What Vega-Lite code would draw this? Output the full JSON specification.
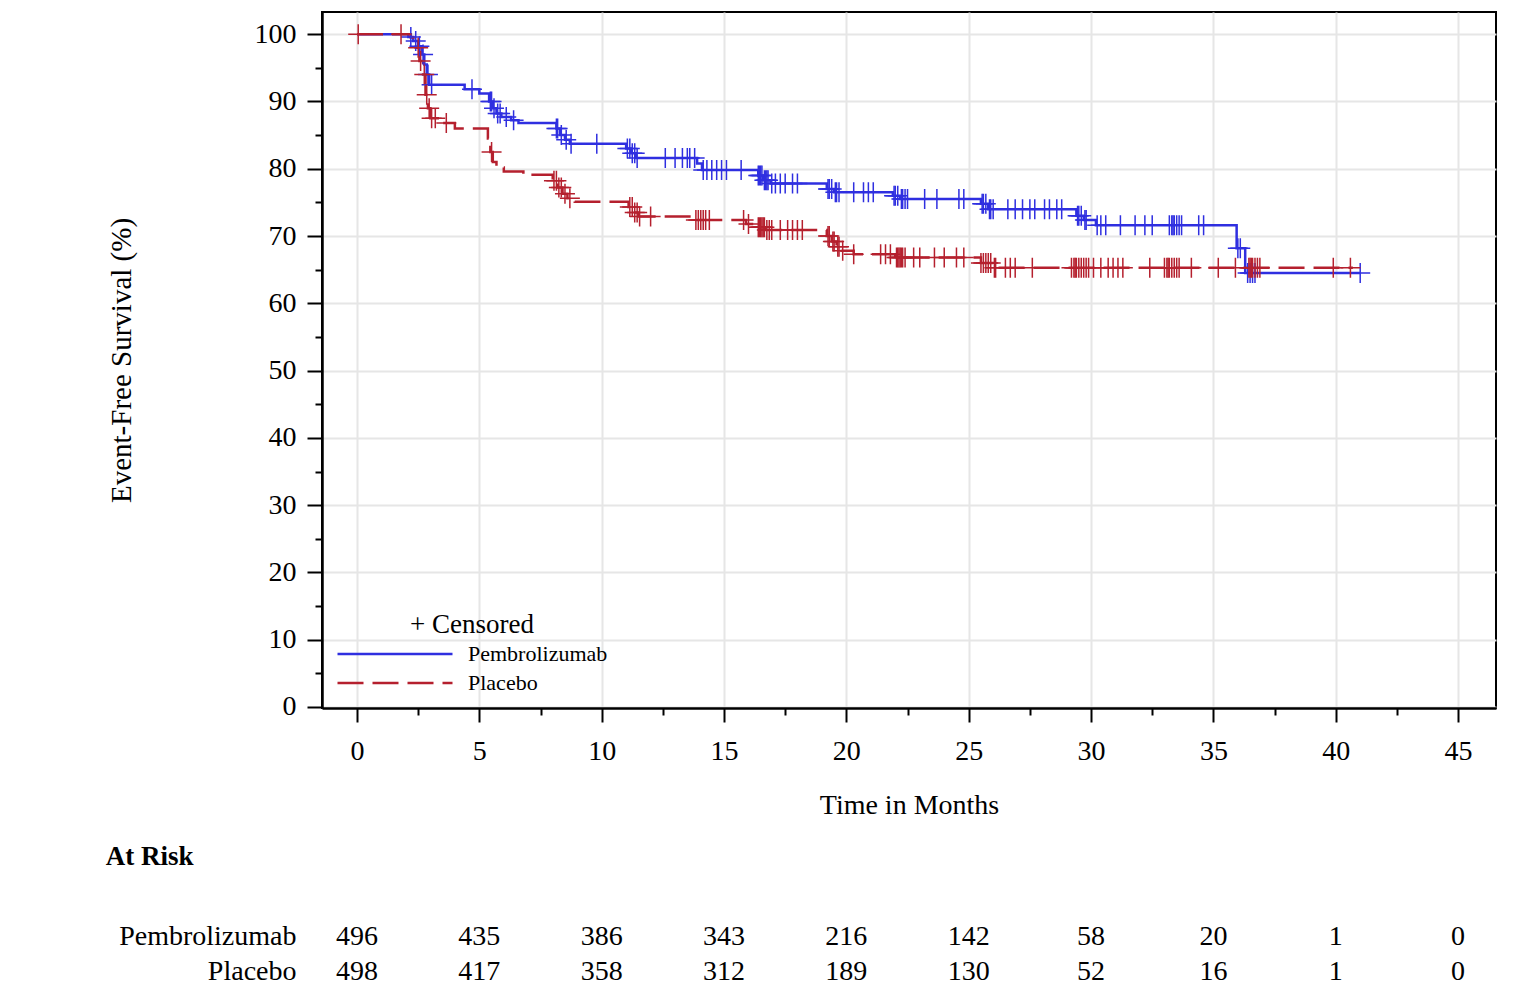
{
  "$schema": "https://vega.github.io/schema/vega-lite/v6.json",
  "padding": {"left": 105, "top": 11, "right": 10, "bottom": 0},
  "background": "white",
  "config": {
    "font": "Liberation Serif",
    "view": {"stroke": "black", "strokeWidth": 2},
    "axis": {
      "labelFont": "Liberation Serif",
      "titleFont": "Liberation Serif",
      "labelColor": "black",
      "titleColor": "black",
      "tickColor": "black",
      "domainColor": "black",
      "titleFontWeight": "normal",
      "gridColor": "#e6e6e6",
      "gridWidth": 2
    }
  },
  "datasets": {
    "steps": [
      {"group": "Pembrolizumab", "t": 0, "s": 100},
      {"group": "Pembrolizumab", "t": 2.1, "s": 99.6},
      {"group": "Pembrolizumab", "t": 2.3, "s": 99.0},
      {"group": "Pembrolizumab", "t": 2.5, "s": 98.2},
      {"group": "Pembrolizumab", "t": 2.65, "s": 97.0},
      {"group": "Pembrolizumab", "t": 2.75, "s": 95.5},
      {"group": "Pembrolizumab", "t": 2.85, "s": 94.0},
      {"group": "Pembrolizumab", "t": 2.95, "s": 92.5},
      {"group": "Pembrolizumab", "t": 4.4, "s": 91.8},
      {"group": "Pembrolizumab", "t": 5.0, "s": 91.2},
      {"group": "Pembrolizumab", "t": 5.4, "s": 90.0},
      {"group": "Pembrolizumab", "t": 5.55, "s": 89.0},
      {"group": "Pembrolizumab", "t": 5.7, "s": 88.2},
      {"group": "Pembrolizumab", "t": 5.9, "s": 87.7},
      {"group": "Pembrolizumab", "t": 6.3, "s": 87.2},
      {"group": "Pembrolizumab", "t": 6.6, "s": 86.8},
      {"group": "Pembrolizumab", "t": 8.15, "s": 86.0},
      {"group": "Pembrolizumab", "t": 8.3, "s": 85.0},
      {"group": "Pembrolizumab", "t": 8.5, "s": 84.3},
      {"group": "Pembrolizumab", "t": 8.7, "s": 83.7},
      {"group": "Pembrolizumab", "t": 11.0, "s": 83.0},
      {"group": "Pembrolizumab", "t": 11.2, "s": 82.3},
      {"group": "Pembrolizumab", "t": 11.4, "s": 81.6},
      {"group": "Pembrolizumab", "t": 13.9, "s": 80.8},
      {"group": "Pembrolizumab", "t": 14.1, "s": 79.8},
      {"group": "Pembrolizumab", "t": 16.4, "s": 79.0},
      {"group": "Pembrolizumab", "t": 16.6, "s": 78.3},
      {"group": "Pembrolizumab", "t": 16.9, "s": 77.8},
      {"group": "Pembrolizumab", "t": 19.2, "s": 77.0},
      {"group": "Pembrolizumab", "t": 19.5, "s": 76.5},
      {"group": "Pembrolizumab", "t": 21.9, "s": 76.0},
      {"group": "Pembrolizumab", "t": 22.2, "s": 75.5},
      {"group": "Pembrolizumab", "t": 25.5, "s": 74.8},
      {"group": "Pembrolizumab", "t": 25.8, "s": 74.0},
      {"group": "Pembrolizumab", "t": 29.4, "s": 73.0},
      {"group": "Pembrolizumab", "t": 29.7, "s": 72.4},
      {"group": "Pembrolizumab", "t": 30.2, "s": 71.6},
      {"group": "Pembrolizumab", "t": 35.95, "s": 68.2},
      {"group": "Pembrolizumab", "t": 36.3, "s": 64.5},
      {"group": "Pembrolizumab", "t": 41.0, "s": 64.5},
      {"group": "Placebo", "t": 0, "s": 100},
      {"group": "Placebo", "t": 2.2, "s": 99.5},
      {"group": "Placebo", "t": 2.4, "s": 98.0},
      {"group": "Placebo", "t": 2.55, "s": 96.0},
      {"group": "Placebo", "t": 2.7, "s": 94.0},
      {"group": "Placebo", "t": 2.8, "s": 91.0},
      {"group": "Placebo", "t": 2.9, "s": 89.0},
      {"group": "Placebo", "t": 3.0, "s": 87.5},
      {"group": "Placebo", "t": 3.3, "s": 86.8},
      {"group": "Placebo", "t": 4.0, "s": 86.0},
      {"group": "Placebo", "t": 5.35, "s": 84.5},
      {"group": "Placebo", "t": 5.45, "s": 82.5},
      {"group": "Placebo", "t": 5.55, "s": 81.0},
      {"group": "Placebo", "t": 5.7, "s": 80.2},
      {"group": "Placebo", "t": 6.0, "s": 79.6},
      {"group": "Placebo", "t": 6.8, "s": 79.1},
      {"group": "Placebo", "t": 8.0, "s": 78.2},
      {"group": "Placebo", "t": 8.2, "s": 77.2},
      {"group": "Placebo", "t": 8.4, "s": 76.3},
      {"group": "Placebo", "t": 8.6, "s": 75.6},
      {"group": "Placebo", "t": 8.9, "s": 75.1},
      {"group": "Placebo", "t": 11.1, "s": 74.3},
      {"group": "Placebo", "t": 11.3, "s": 73.5},
      {"group": "Placebo", "t": 11.5, "s": 72.9},
      {"group": "Placebo", "t": 13.8, "s": 72.4},
      {"group": "Placebo", "t": 15.9, "s": 71.8},
      {"group": "Placebo", "t": 16.3, "s": 71.3},
      {"group": "Placebo", "t": 16.7, "s": 70.9},
      {"group": "Placebo", "t": 19.2, "s": 70.0},
      {"group": "Placebo", "t": 19.4, "s": 69.2},
      {"group": "Placebo", "t": 19.6, "s": 68.4},
      {"group": "Placebo", "t": 19.8, "s": 67.8},
      {"group": "Placebo", "t": 20.3, "s": 67.3},
      {"group": "Placebo", "t": 22.0, "s": 66.8},
      {"group": "Placebo", "t": 25.5, "s": 66.0},
      {"group": "Placebo", "t": 26.0, "s": 65.3},
      {"group": "Placebo", "t": 40.7, "s": 65.3}
    ],
    "censored": [
      {"group": "Pembrolizumab", "t": 2.2, "s": 99.6},
      {"group": "Pembrolizumab", "t": 2.4, "s": 99.0},
      {"group": "Pembrolizumab", "t": 2.55, "s": 98.2},
      {"group": "Pembrolizumab", "t": 2.7, "s": 97.0},
      {"group": "Pembrolizumab", "t": 2.9, "s": 94.0},
      {"group": "Pembrolizumab", "t": 3.05, "s": 92.5},
      {"group": "Pembrolizumab", "t": 4.7, "s": 91.8},
      {"group": "Pembrolizumab", "t": 5.45, "s": 90.0},
      {"group": "Pembrolizumab", "t": 5.5, "s": 90.0},
      {"group": "Pembrolizumab", "t": 5.6, "s": 89.0},
      {"group": "Pembrolizumab", "t": 5.75, "s": 88.2},
      {"group": "Pembrolizumab", "t": 5.85, "s": 88.2},
      {"group": "Pembrolizumab", "t": 6.1, "s": 87.7},
      {"group": "Pembrolizumab", "t": 6.4, "s": 87.2},
      {"group": "Pembrolizumab", "t": 8.15, "s": 86.0},
      {"group": "Pembrolizumab", "t": 8.2, "s": 86.0},
      {"group": "Pembrolizumab", "t": 8.35, "s": 85.0},
      {"group": "Pembrolizumab", "t": 8.55, "s": 84.3},
      {"group": "Pembrolizumab", "t": 8.75, "s": 83.7},
      {"group": "Pembrolizumab", "t": 9.8, "s": 83.7},
      {"group": "Pembrolizumab", "t": 11.05, "s": 83.0},
      {"group": "Pembrolizumab", "t": 11.15, "s": 83.0},
      {"group": "Pembrolizumab", "t": 11.25, "s": 82.3},
      {"group": "Pembrolizumab", "t": 11.35, "s": 82.3},
      {"group": "Pembrolizumab", "t": 11.45, "s": 81.6},
      {"group": "Pembrolizumab", "t": 12.6, "s": 81.6},
      {"group": "Pembrolizumab", "t": 13.0, "s": 81.6},
      {"group": "Pembrolizumab", "t": 13.3, "s": 81.6},
      {"group": "Pembrolizumab", "t": 13.5, "s": 81.6},
      {"group": "Pembrolizumab", "t": 13.6, "s": 81.6},
      {"group": "Pembrolizumab", "t": 13.8, "s": 81.6},
      {"group": "Pembrolizumab", "t": 14.15, "s": 79.8},
      {"group": "Pembrolizumab", "t": 14.3, "s": 79.8},
      {"group": "Pembrolizumab", "t": 14.5, "s": 79.8},
      {"group": "Pembrolizumab", "t": 14.7, "s": 79.8},
      {"group": "Pembrolizumab", "t": 14.9, "s": 79.8},
      {"group": "Pembrolizumab", "t": 15.1, "s": 79.8},
      {"group": "Pembrolizumab", "t": 15.7, "s": 79.8},
      {"group": "Pembrolizumab", "t": 16.4, "s": 79.0},
      {"group": "Pembrolizumab", "t": 16.45, "s": 79.0},
      {"group": "Pembrolizumab", "t": 16.5, "s": 79.0},
      {"group": "Pembrolizumab", "t": 16.55, "s": 79.0},
      {"group": "Pembrolizumab", "t": 16.65, "s": 78.3},
      {"group": "Pembrolizumab", "t": 16.7, "s": 78.3},
      {"group": "Pembrolizumab", "t": 16.75, "s": 78.3},
      {"group": "Pembrolizumab", "t": 16.8, "s": 78.3},
      {"group": "Pembrolizumab", "t": 16.95, "s": 77.8},
      {"group": "Pembrolizumab", "t": 17.1, "s": 77.8},
      {"group": "Pembrolizumab", "t": 17.3, "s": 77.8},
      {"group": "Pembrolizumab", "t": 17.5, "s": 77.8},
      {"group": "Pembrolizumab", "t": 17.8, "s": 77.8},
      {"group": "Pembrolizumab", "t": 18.0, "s": 77.8},
      {"group": "Pembrolizumab", "t": 19.25, "s": 77.0},
      {"group": "Pembrolizumab", "t": 19.3, "s": 77.0},
      {"group": "Pembrolizumab", "t": 19.4, "s": 77.0},
      {"group": "Pembrolizumab", "t": 19.55, "s": 76.5},
      {"group": "Pembrolizumab", "t": 19.6, "s": 76.5},
      {"group": "Pembrolizumab", "t": 19.7, "s": 76.5},
      {"group": "Pembrolizumab", "t": 20.3, "s": 76.5},
      {"group": "Pembrolizumab", "t": 20.7, "s": 76.5},
      {"group": "Pembrolizumab", "t": 20.9, "s": 76.5},
      {"group": "Pembrolizumab", "t": 21.1, "s": 76.5},
      {"group": "Pembrolizumab", "t": 21.95, "s": 76.0},
      {"group": "Pembrolizumab", "t": 22.0, "s": 76.0},
      {"group": "Pembrolizumab", "t": 22.1, "s": 76.0},
      {"group": "Pembrolizumab", "t": 22.25, "s": 75.5},
      {"group": "Pembrolizumab", "t": 22.3, "s": 75.5},
      {"group": "Pembrolizumab", "t": 22.4, "s": 75.5},
      {"group": "Pembrolizumab", "t": 22.5, "s": 75.5},
      {"group": "Pembrolizumab", "t": 23.2, "s": 75.5},
      {"group": "Pembrolizumab", "t": 23.7, "s": 75.5},
      {"group": "Pembrolizumab", "t": 24.6, "s": 75.5},
      {"group": "Pembrolizumab", "t": 24.8, "s": 75.5},
      {"group": "Pembrolizumab", "t": 25.55, "s": 74.8},
      {"group": "Pembrolizumab", "t": 25.6, "s": 74.8},
      {"group": "Pembrolizumab", "t": 25.7, "s": 74.8},
      {"group": "Pembrolizumab", "t": 25.85, "s": 74.0},
      {"group": "Pembrolizumab", "t": 25.9, "s": 74.0},
      {"group": "Pembrolizumab", "t": 26.0, "s": 74.0},
      {"group": "Pembrolizumab", "t": 26.6, "s": 74.0},
      {"group": "Pembrolizumab", "t": 26.9, "s": 74.0},
      {"group": "Pembrolizumab", "t": 27.2, "s": 74.0},
      {"group": "Pembrolizumab", "t": 27.5, "s": 74.0},
      {"group": "Pembrolizumab", "t": 27.7, "s": 74.0},
      {"group": "Pembrolizumab", "t": 28.1, "s": 74.0},
      {"group": "Pembrolizumab", "t": 28.3, "s": 74.0},
      {"group": "Pembrolizumab", "t": 28.6, "s": 74.0},
      {"group": "Pembrolizumab", "t": 28.8, "s": 74.0},
      {"group": "Pembrolizumab", "t": 29.45, "s": 73.0},
      {"group": "Pembrolizumab", "t": 29.5, "s": 73.0},
      {"group": "Pembrolizumab", "t": 29.6, "s": 73.0},
      {"group": "Pembrolizumab", "t": 29.75, "s": 72.4},
      {"group": "Pembrolizumab", "t": 29.8, "s": 72.4},
      {"group": "Pembrolizumab", "t": 30.25, "s": 71.6},
      {"group": "Pembrolizumab", "t": 30.4, "s": 71.6},
      {"group": "Pembrolizumab", "t": 30.6, "s": 71.6},
      {"group": "Pembrolizumab", "t": 31.2, "s": 71.6},
      {"group": "Pembrolizumab", "t": 31.8, "s": 71.6},
      {"group": "Pembrolizumab", "t": 32.2, "s": 71.6},
      {"group": "Pembrolizumab", "t": 32.5, "s": 71.6},
      {"group": "Pembrolizumab", "t": 33.2, "s": 71.6},
      {"group": "Pembrolizumab", "t": 33.3, "s": 71.6},
      {"group": "Pembrolizumab", "t": 33.35, "s": 71.6},
      {"group": "Pembrolizumab", "t": 33.4, "s": 71.6},
      {"group": "Pembrolizumab", "t": 33.5, "s": 71.6},
      {"group": "Pembrolizumab", "t": 33.6, "s": 71.6},
      {"group": "Pembrolizumab", "t": 33.7, "s": 71.6},
      {"group": "Pembrolizumab", "t": 34.4, "s": 71.6},
      {"group": "Pembrolizumab", "t": 34.6, "s": 71.6},
      {"group": "Pembrolizumab", "t": 36.0, "s": 68.2},
      {"group": "Pembrolizumab", "t": 36.1, "s": 68.2},
      {"group": "Pembrolizumab", "t": 36.4, "s": 64.5},
      {"group": "Pembrolizumab", "t": 36.5, "s": 64.5},
      {"group": "Pembrolizumab", "t": 36.6, "s": 64.5},
      {"group": "Pembrolizumab", "t": 36.7, "s": 64.5},
      {"group": "Pembrolizumab", "t": 41.0, "s": 64.5},
      {"group": "Placebo", "t": 0.05, "s": 100},
      {"group": "Placebo", "t": 1.8, "s": 100},
      {"group": "Placebo", "t": 2.5, "s": 98.0},
      {"group": "Placebo", "t": 2.6, "s": 96.0},
      {"group": "Placebo", "t": 2.75, "s": 94.0},
      {"group": "Placebo", "t": 2.85, "s": 91.0},
      {"group": "Placebo", "t": 2.95, "s": 89.0},
      {"group": "Placebo", "t": 3.05, "s": 87.5},
      {"group": "Placebo", "t": 3.2, "s": 87.5},
      {"group": "Placebo", "t": 3.65, "s": 86.8},
      {"group": "Placebo", "t": 5.5, "s": 82.5},
      {"group": "Placebo", "t": 8.05, "s": 78.2},
      {"group": "Placebo", "t": 8.15, "s": 78.2},
      {"group": "Placebo", "t": 8.25, "s": 77.2},
      {"group": "Placebo", "t": 8.35, "s": 77.2},
      {"group": "Placebo", "t": 8.5, "s": 76.3},
      {"group": "Placebo", "t": 8.7, "s": 75.6},
      {"group": "Placebo", "t": 11.15, "s": 74.3},
      {"group": "Placebo", "t": 11.25, "s": 74.3},
      {"group": "Placebo", "t": 11.35, "s": 73.5},
      {"group": "Placebo", "t": 11.45, "s": 73.5},
      {"group": "Placebo", "t": 11.55, "s": 72.9},
      {"group": "Placebo", "t": 12.0, "s": 72.9},
      {"group": "Placebo", "t": 13.85, "s": 72.4},
      {"group": "Placebo", "t": 13.95, "s": 72.4},
      {"group": "Placebo", "t": 14.05, "s": 72.4},
      {"group": "Placebo", "t": 14.15, "s": 72.4},
      {"group": "Placebo", "t": 14.25, "s": 72.4},
      {"group": "Placebo", "t": 14.4, "s": 72.4},
      {"group": "Placebo", "t": 15.8, "s": 72.4},
      {"group": "Placebo", "t": 16.0, "s": 71.8},
      {"group": "Placebo", "t": 16.4, "s": 71.3},
      {"group": "Placebo", "t": 16.45, "s": 71.3},
      {"group": "Placebo", "t": 16.5, "s": 71.3},
      {"group": "Placebo", "t": 16.55, "s": 71.3},
      {"group": "Placebo", "t": 16.6, "s": 71.3},
      {"group": "Placebo", "t": 16.65, "s": 71.3},
      {"group": "Placebo", "t": 16.75, "s": 70.9},
      {"group": "Placebo", "t": 16.85, "s": 70.9},
      {"group": "Placebo", "t": 16.95, "s": 70.9},
      {"group": "Placebo", "t": 17.3, "s": 70.9},
      {"group": "Placebo", "t": 17.6, "s": 70.9},
      {"group": "Placebo", "t": 17.8, "s": 70.9},
      {"group": "Placebo", "t": 18.0, "s": 70.9},
      {"group": "Placebo", "t": 18.2, "s": 70.9},
      {"group": "Placebo", "t": 19.25, "s": 70.0},
      {"group": "Placebo", "t": 19.3, "s": 70.0},
      {"group": "Placebo", "t": 19.45, "s": 69.2},
      {"group": "Placebo", "t": 19.5, "s": 69.2},
      {"group": "Placebo", "t": 19.65, "s": 68.4},
      {"group": "Placebo", "t": 19.7, "s": 68.4},
      {"group": "Placebo", "t": 19.85, "s": 67.8},
      {"group": "Placebo", "t": 20.3, "s": 67.3},
      {"group": "Placebo", "t": 21.4, "s": 67.3},
      {"group": "Placebo", "t": 21.6, "s": 67.3},
      {"group": "Placebo", "t": 21.8, "s": 67.3},
      {"group": "Placebo", "t": 22.05, "s": 66.8},
      {"group": "Placebo", "t": 22.1, "s": 66.8},
      {"group": "Placebo", "t": 22.15, "s": 66.8},
      {"group": "Placebo", "t": 22.2, "s": 66.8},
      {"group": "Placebo", "t": 22.25, "s": 66.8},
      {"group": "Placebo", "t": 22.3, "s": 66.8},
      {"group": "Placebo", "t": 22.4, "s": 66.8},
      {"group": "Placebo", "t": 22.75, "s": 66.8},
      {"group": "Placebo", "t": 23.0, "s": 66.8},
      {"group": "Placebo", "t": 23.6, "s": 66.8},
      {"group": "Placebo", "t": 24.0, "s": 66.8},
      {"group": "Placebo", "t": 24.5, "s": 66.8},
      {"group": "Placebo", "t": 24.8, "s": 66.8},
      {"group": "Placebo", "t": 25.5, "s": 66.0},
      {"group": "Placebo", "t": 25.6, "s": 66.0},
      {"group": "Placebo", "t": 25.7, "s": 66.0},
      {"group": "Placebo", "t": 25.8, "s": 66.0},
      {"group": "Placebo", "t": 25.9, "s": 66.0},
      {"group": "Placebo", "t": 26.05, "s": 65.3},
      {"group": "Placebo", "t": 26.1, "s": 65.3},
      {"group": "Placebo", "t": 26.5, "s": 65.3},
      {"group": "Placebo", "t": 26.7, "s": 65.3},
      {"group": "Placebo", "t": 26.9, "s": 65.3},
      {"group": "Placebo", "t": 27.6, "s": 65.3},
      {"group": "Placebo", "t": 29.2, "s": 65.3},
      {"group": "Placebo", "t": 29.3, "s": 65.3},
      {"group": "Placebo", "t": 29.35, "s": 65.3},
      {"group": "Placebo", "t": 29.4, "s": 65.3},
      {"group": "Placebo", "t": 29.5, "s": 65.3},
      {"group": "Placebo", "t": 29.6, "s": 65.3},
      {"group": "Placebo", "t": 29.7, "s": 65.3},
      {"group": "Placebo", "t": 29.8, "s": 65.3},
      {"group": "Placebo", "t": 29.9, "s": 65.3},
      {"group": "Placebo", "t": 30.1, "s": 65.3},
      {"group": "Placebo", "t": 30.4, "s": 65.3},
      {"group": "Placebo", "t": 30.7, "s": 65.3},
      {"group": "Placebo", "t": 30.9, "s": 65.3},
      {"group": "Placebo", "t": 31.1, "s": 65.3},
      {"group": "Placebo", "t": 31.3, "s": 65.3},
      {"group": "Placebo", "t": 32.4, "s": 65.3},
      {"group": "Placebo", "t": 33.0, "s": 65.3},
      {"group": "Placebo", "t": 33.1, "s": 65.3},
      {"group": "Placebo", "t": 33.15, "s": 65.3},
      {"group": "Placebo", "t": 33.2, "s": 65.3},
      {"group": "Placebo", "t": 33.3, "s": 65.3},
      {"group": "Placebo", "t": 33.4, "s": 65.3},
      {"group": "Placebo", "t": 33.5, "s": 65.3},
      {"group": "Placebo", "t": 33.6, "s": 65.3},
      {"group": "Placebo", "t": 34.1, "s": 65.3},
      {"group": "Placebo", "t": 35.2, "s": 65.3},
      {"group": "Placebo", "t": 35.9, "s": 65.3},
      {"group": "Placebo", "t": 36.45, "s": 65.3},
      {"group": "Placebo", "t": 36.5, "s": 65.3},
      {"group": "Placebo", "t": 36.55, "s": 65.3},
      {"group": "Placebo", "t": 36.6, "s": 65.3},
      {"group": "Placebo", "t": 36.7, "s": 65.3},
      {"group": "Placebo", "t": 36.8, "s": 65.3},
      {"group": "Placebo", "t": 36.9, "s": 65.3},
      {"group": "Placebo", "t": 39.9, "s": 65.3},
      {"group": "Placebo", "t": 40.6, "s": 65.3}
    ],
    "atrisk": [
      {"group": "Pembrolizumab", "t": 0, "n": 496},
      {"group": "Pembrolizumab", "t": 5, "n": 435},
      {"group": "Pembrolizumab", "t": 10, "n": 386},
      {"group": "Pembrolizumab", "t": 15, "n": 343},
      {"group": "Pembrolizumab", "t": 20, "n": 216},
      {"group": "Pembrolizumab", "t": 25, "n": 142},
      {"group": "Pembrolizumab", "t": 30, "n": 58},
      {"group": "Pembrolizumab", "t": 35, "n": 20},
      {"group": "Pembrolizumab", "t": 40, "n": 1},
      {"group": "Pembrolizumab", "t": 45, "n": 0},
      {"group": "Placebo", "t": 0, "n": 498},
      {"group": "Placebo", "t": 5, "n": 417},
      {"group": "Placebo", "t": 10, "n": 358},
      {"group": "Placebo", "t": 15, "n": 312},
      {"group": "Placebo", "t": 20, "n": 189},
      {"group": "Placebo", "t": 25, "n": 130},
      {"group": "Placebo", "t": 30, "n": 52},
      {"group": "Placebo", "t": 35, "n": 16},
      {"group": "Placebo", "t": 40, "n": 1},
      {"group": "Placebo", "t": 45, "n": 0}
    ]
  },
  "bounds": "flush",
  "spacing": 211,
  "resolve": {
    "scale": {"x": "independent", "y": "independent", "color": "independent", "strokeDash": "independent", "stroke": "independent"},
    "legend": {"color": "independent", "strokeDash": "independent", "stroke": "independent"}
  },
  "vconcat": [
    {
      "width": 1174,
      "height": 696,
      "resolve": {"axis": {"x": "independent", "y": "independent"}},
      "layer": [
        {
          "data": {"name": "steps"},
          "mark": {"type": "line", "interpolate": "step-after", "strokeWidth": 2.5},
          "encoding": {
            "x": {
              "field": "t",
              "type": "quantitative",
              "scale": {"domain": [-1.43, 46.55], "nice": false, "zero": false},
              "axis": {
                "values": [0, 5, 10, 15, 20, 25, 30, 35, 40, 45],
                "title": "Time in Months",
                "titleFontSize": 28,
                "titlePadding": 26,
                "labelFontSize": 28,
                "labelPadding": 15,
                "tickSize": 14,
                "tickWidth": 2,
                "domainWidth": 2.5,
                "grid": true,
                "orient": "bottom"
              }
            },
            "y": {
              "field": "s",
              "type": "quantitative",
              "scale": {"domain": [-0.15, 103.3], "nice": false, "zero": false},
              "axis": {
                "values": [0, 10, 20, 30, 40, 50, 60, 70, 80, 90, 100],
                "title": "Event-Free Survival (%)",
                "titleFontSize": 29,
                "titlePadding": 118,
                "labelFontSize": 28,
                "labelPadding": 11,
                "tickSize": 15,
                "tickWidth": 2,
                "domainWidth": 2.5,
                "grid": true,
                "orient": "left"
              }
            },
            "color": {
              "field": "group",
              "type": "nominal",
              "scale": {"domain": ["Pembrolizumab", "Placebo"], "range": ["#2f2fe0", "#b5202e"]},
              "legend": {
                "title": "+ Censored",
                "orient": "bottom-left",
                "offset": 14,
                "padding": 0,
                "titleFont": "Liberation Serif",
                "titleFontSize": 27,
                "titleFontWeight": "normal",
                "titleColor": "black",
                "titleAnchor": "middle",
                "titleAlign": "center",
                "titlePadding": 2,
                "labelFont": "Liberation Serif",
                "labelFontSize": 22,
                "labelColor": "black",
                "labelOffset": 106,
                "symbolType": "M-1,0H9",
                "symbolSize": 529,
                "symbolStrokeWidth": 2.5,
                "rowPadding": 5
              }
            },
            "strokeDash": {
              "field": "group",
              "type": "nominal",
              "scale": {"domain": ["Pembrolizumab", "Placebo"], "range": [[1, 0], [26, 9]]},
              "legend": {
                "title": "+ Censored",
                "orient": "bottom-left",
                "offset": 14,
                "padding": 0,
                "titleFont": "Liberation Serif",
                "titleFontSize": 27,
                "titleFontWeight": "normal",
                "titleColor": "black",
                "titleAnchor": "middle",
                "titleAlign": "center",
                "titlePadding": 2,
                "labelFont": "Liberation Serif",
                "labelFontSize": 22,
                "labelColor": "black",
                "labelOffset": 106,
                "symbolType": "M-1,0H9",
                "symbolSize": 529,
                "symbolStrokeWidth": 2.5,
                "rowPadding": 5
              }
            }
          }
        },
        {
          "data": {"name": "censored"},
          "mark": {"type": "point", "shape": "M-1,0H1M0,-1V1", "filled": false, "size": 400, "strokeWidth": 1.5, "opacity": 1},
          "encoding": {
            "x": {
              "field": "t",
              "type": "quantitative",
              "scale": {"domain": [-1.43, 46.55], "nice": false, "zero": false},
              "axis": {
                "values": [2.5, 7.5, 12.5, 17.5, 22.5, 27.5, 32.5, 37.5, 42.5],
                "labels": false,
                "grid": false,
                "domain": false,
                "title": null,
                "tickSize": 7,
                "tickWidth": 2,
                "orient": "bottom"
              }
            },
            "y": {
              "field": "s",
              "type": "quantitative",
              "scale": {"domain": [-0.15, 103.3], "nice": false, "zero": false},
              "axis": {
                "values": [5, 15, 25, 35, 45, 55, 65, 75, 85, 95],
                "labels": false,
                "grid": false,
                "domain": false,
                "title": null,
                "tickSize": 7,
                "tickWidth": 2,
                "orient": "left"
              }
            },
            "stroke": {
              "field": "group",
              "type": "nominal",
              "scale": {"domain": ["Pembrolizumab", "Placebo"], "range": ["#2f2fe0", "#b5202e"]},
              "legend": null
            }
          }
        }
      ]
    },
    {
      "width": 1174,
      "height": 70,
      "view": {"stroke": null},
      "title": {
        "text": "At Risk",
        "anchor": "start",
        "frame": "bounds",
        "font": "Liberation Serif",
        "fontSize": 27,
        "fontWeight": "bold",
        "color": "black",
        "offset": 48,
        "dx": -13
      },
      "data": {"name": "atrisk"},
      "mark": {"type": "text", "font": "Liberation Serif", "fontSize": 28, "baseline": "middle", "align": "center", "color": "black"},
      "encoding": {
        "x": {
          "field": "t",
          "type": "quantitative",
          "scale": {"domain": [-1.43, 46.55], "nice": false, "zero": false},
          "axis": null
        },
        "y": {
          "field": "group",
          "type": "nominal",
          "scale": {"type": "point", "domain": ["Pembrolizumab", "Placebo"], "padding": 0.5},
          "axis": {
            "title": null,
            "ticks": false,
            "domain": false,
            "grid": false,
            "labelPadding": 26,
            "labelFontSize": 28,
            "labelFont": "Liberation Serif",
            "labelColor": "black"
          }
        },
        "text": {"field": "n", "type": "quantitative"}
      }
    }
  ]
}
